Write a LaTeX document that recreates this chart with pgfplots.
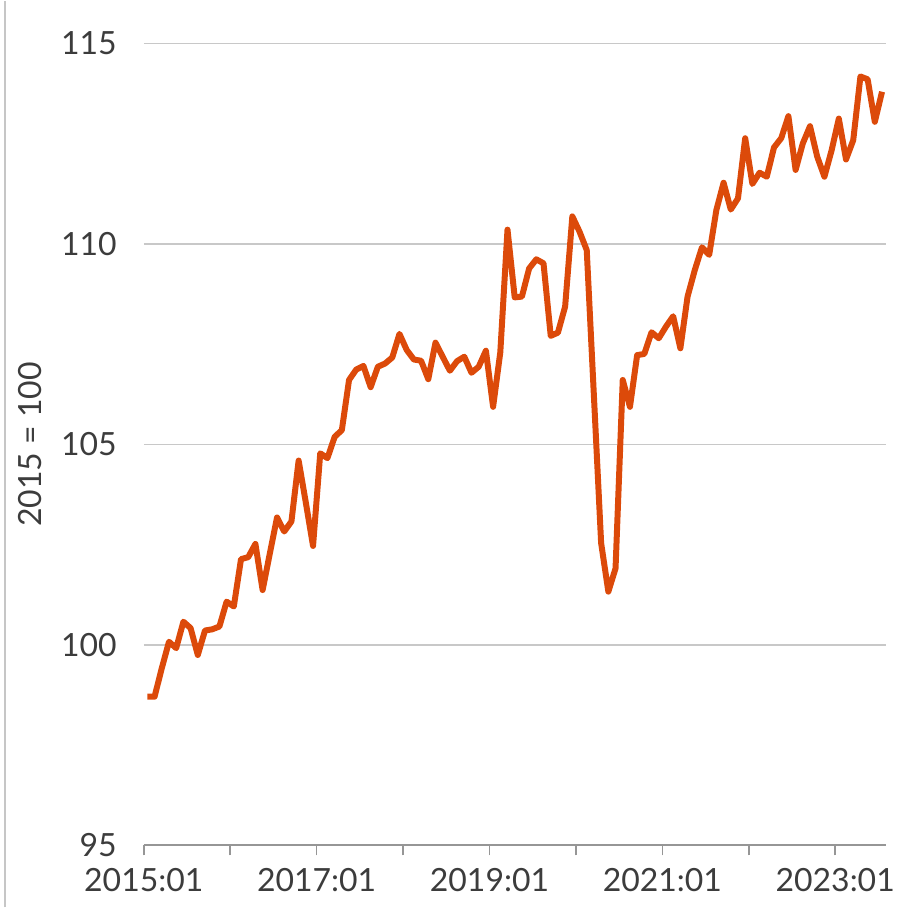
\documentclass[border=0pt]{standalone}
\usepackage{fontspec}
\setmainfont{Lato}
\usepackage{pgfplots}
\pgfplotsset{compat=1.18}
\definecolor{lineorange}{RGB}{220,74,10}
\definecolor{gridgray}{RGB}{200,200,200}
\definecolor{axisgray}{RGB}{150,150,150}
\definecolor{textgray}{RGB}{60,60,60}

% monthly index, 2015 = 100; x = month number from 2015:01, points at mid-month
\pgfplotstableread{
x y
0.5 98.71
1.5 98.71
2.5 99.42
3.5 100.08
4.5 99.92
5.5 100.58
6.5 100.42
7.5 99.75
8.5 100.36
9.5 100.39
10.5 100.46
11.5 101.08
12.5 100.96
13.5 102.14
14.5 102.19
15.5 102.52
16.5 101.37
17.5 102.28
18.5 103.18
19.5 102.83
20.5 103.08
21.5 104.60
22.5 103.55
23.5 102.47
24.5 104.78
25.5 104.66
26.5 105.19
27.5 105.36
28.5 106.61
29.5 106.87
30.5 106.96
31.5 106.43
32.5 106.94
33.5 107.02
34.5 107.17
35.5 107.76
36.5 107.36
37.5 107.12
38.5 107.09
39.5 106.63
40.5 107.54
41.5 107.19
42.5 106.84
43.5 107.08
44.5 107.19
45.5 106.79
46.5 106.94
47.5 107.34
48.5 105.94
49.5 107.30
50.5 110.36
51.5 108.67
52.5 108.69
53.5 109.39
54.5 109.62
55.5 109.52
56.5 107.71
57.5 107.79
58.5 108.44
59.5 110.69
60.5 110.31
61.5 109.85
62.5 106.20
63.5 102.54
64.5 101.33
65.5 101.91
66.5 106.61
67.5 105.94
68.5 107.23
69.5 107.26
70.5 107.80
71.5 107.65
72.5 107.94
73.5 108.20
74.5 107.40
75.5 108.69
76.5 109.35
77.5 109.92
78.5 109.73
79.5 110.85
80.5 111.53
81.5 110.86
82.5 111.14
83.5 112.64
84.5 111.50
85.5 111.78
86.5 111.68
87.5 112.41
88.5 112.64
89.5 113.19
90.5 111.85
91.5 112.51
92.5 112.94
93.5 112.18
94.5 111.68
95.5 112.34
96.5 113.13
97.5 112.11
98.5 112.59
99.5 114.18
100.5 114.11
101.5 113.05
102.5 113.80
}\indexdata

\begin{document}
\begin{tikzpicture}
\begin{axis}[
  scale only axis,
  width=371.5pt, height=401.5pt,
  xmin=0, xmax=103,
  ymin=95, ymax=115,
  axis x line*=bottom,
  axis y line*=left,
  y axis line style={draw=none},
  x axis line style={axisgray, line width=1pt},
  xtick={0,12,...,96},
  xticklabels={2015:01,,2017:01,,2019:01,,2021:01,,2023:01},
  xtick align=outside,
  x tick style={axisgray, line width=0.8pt},
  major tick length=5pt,
  ytick={95,100,...,115},
  y tick style={draw=none},
  ymajorgrids,
  grid style={gridgray, line width=0.6pt},
  /pgf/number format/assume math mode=true,
  tick label style={font=\fontsize{16}{19}\selectfont, text=textgray},
  xticklabel style={yshift=-3pt},
  yticklabel style={xshift=-10pt},
  ylabel={2015 = 100},
  ylabel style={font=\fontsize{16}{19}\selectfont, text=textgray,
    at={(axis description cs:-0.1534,0.5)}, anchor=center},
]
\addplot[lineorange, line width=3pt, line join=round] table[x=x, y=y] {\indexdata};
\end{axis}
\pgfresetboundingbox
\path ([shift={(-72pt,-31pt)}]current axis.south west) rectangle ([shift={(8.5pt,21.5pt)}]current axis.north east);
\draw[gray!45, line width=0.7pt] ([shift={(-69.5pt,-31pt)}]current axis.south west) -- ([shift={(-69.5pt,21.5pt)}]current axis.north west);
\end{tikzpicture}
\end{document}
